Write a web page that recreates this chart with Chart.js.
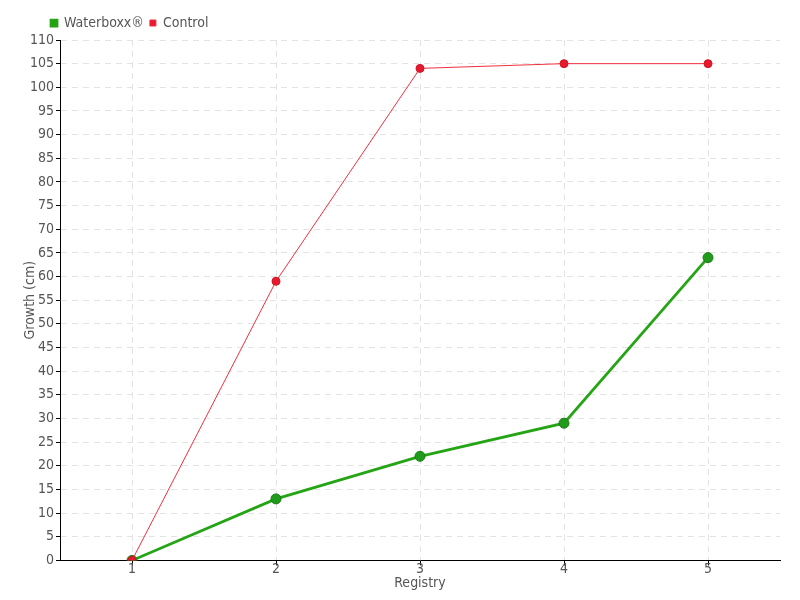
<!DOCTYPE html>
<html>
<head>
<meta charset="utf-8">
<script src="https://cdn.jsdelivr.net/npm/chart.js@4"></script>
<style>
    html, body { margin: 0; padding: 0; background: #fff; }
    #wrap { width: 800px; height: 600px; }
</style>
</head>
<body>
<div id="wrap"><canvas id="growthChart"></canvas></div>
<script>
"use strict";
var registryLabels = ["1", "2", "3", "4", "5"];
var waterboxxGrowth = [0, 13, 22, 29, 64];
var controlGrowth = [0, 59, 104, 105, 105];
var seriesNames = ["Waterboxx®", "Control"];

Chart.defaults.font.family = "'DejaVu Sans Condensed', 'Liberation Sans Narrow', sans-serif";
Chart.defaults.font.size = 14;
Chart.defaults.color = "#555";

// move the legend so it starts over the plot area, like the original
var legendShift = {
    id: 'legendShift',
    afterLayout: function (chart) {
        chart.legend.left += 23;
        chart.legend.right += 23;
    }
};

var ctx = document.getElementById("growthChart");
var growthChart = new Chart(ctx, {
    type: 'line',
    data: {
        labels: registryLabels,
        datasets: [{
            label: seriesNames[0],
            data: waterboxxGrowth,
            order: 1,
            borderColor: "#25a515",
            backgroundColor: "#22a012",
            borderWidth: 2.75,
            pointRadius: 5,
            pointBackgroundColor: "#1f9a1a",
            pointBorderColor: "#1b7d18",
            pointBorderWidth: 1,
            tension: 0
        }, {
            label: seriesNames[1],
            data: controlGrowth,
            order: 0,
            borderColor: "#f0303f",
            backgroundColor: "#e8192c",
            borderWidth: 1,
            pointRadius: 4,
            pointBackgroundColor: "#e8192c",
            pointBorderColor: "#d01525",
            pointBorderWidth: 1,
            tension: 0
        }]
    },
    plugins: [legendShift],
    options: {
        responsive: true,
        maintainAspectRatio: false,
        animation: false,
        layout: { padding: { left: 22, right: 20, top: 10, bottom: 8 } },
        plugins: {
            legend: {
                align: 'start',
                labels: {
                    boxWidth: 6,
                    boxHeight: 6,
                    padding: 6,
                    color: "#555",
                    sort: function (a, b) {
                        return a.datasetIndex - b.datasetIndex;
                    }
                }
            },
            tooltip: { enabled: false }
        },
        scales: {
            x: {
                offset: true,
                title: { display: true, text: "Registry", padding: { top: 1, bottom: 0 } },
                grid: {
                    color: "#e3e3e3",
                    tickColor: "#000",
                    tickLength: 5,
                    offset: false
                },
                border: { color: "#000", width: 1, dash: [6, 5] },
                ticks: { padding: -4 }
            },
            y: {
                min: 0,
                max: 110,
                title: { display: true, text: "Growth (cm)", padding: { top: 0, bottom: 0 } },
                grid: {
                    color: "#e3e3e3",
                    tickColor: "#000",
                    tickLength: 4
                },
                border: { color: "#000", width: 1, dash: [6, 5] },
                ticks: { stepSize: 5, padding: 2 },
                afterFit: function (scale) {
                    scale.width = 38;
                }
            }
        }
    }
});
</script>
</body>
</html>
